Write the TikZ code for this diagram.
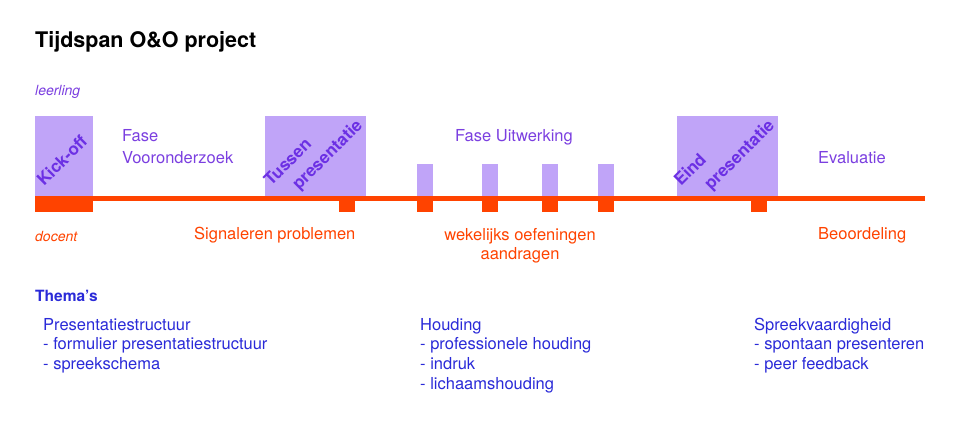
\documentclass[tikz,border=0pt]{standalone}
\usepackage{fontspec}
\setmainfont{TeX Gyre Heros}
\usetikzlibrary{positioning}
\definecolor{lila}{HTML}{C0A4F8}
\definecolor{paars}{HTML}{7B3FE0}
\definecolor{donkerpaars}{HTML}{6C30E4}
\definecolor{oranje}{HTML}{FF4300}
\definecolor{blauw}{HTML}{2A2AD8}

\begin{document}
\begin{tikzpicture}[x=1pt,y=-1pt,
  fase/.style={fill=lila, anchor=south west, inner sep=0pt},
  blok/.style={fill=oranje, anchor=north west, inner sep=0pt, minimum height=16},
  lbl/.style={anchor=base west, inner sep=0pt, font=\fontsize{16.5}{19.7}\selectfont},
  schuin/.style={rotate=45, anchor=base west, inner sep=0pt, text=donkerpaars,
    font=\fontsize{17}{20}\selectfont\bfseries},
  lijn/.style={oranje, line width=5pt}]
\useasboundingbox (0,0) rectangle (960,430);
% titel
\node[anchor=base west, inner sep=0pt, font=\fontsize{21.5}{24}\selectfont\bfseries] (titel) at (35,48) {Tijdspan O\&O project};
\node[lbl, text=paars, font=\fontsize{14}{16}\selectfont\itshape] (leerling) at (35,96) {leerling};
\node[lbl, text=oranje, font=\fontsize{14}{16}\selectfont\itshape] (docent) at (35,242) {docent};
% tijdlijn
\coordinate (tl-start) at (35,198.5);
\coordinate (tl-end) at (925,198.5);
\draw[lijn] (tl-start) -- (tl-end);
% leerling blokken
\node[fase, minimum width=58, minimum height=80] (kickoff) at (35,196) {};
\node[fase, minimum width=101, minimum height=80] (tussen) at (265,196) {};
\node[fase, minimum width=101, minimum height=80] (eind) at (677,196) {};
\foreach \x [count=\i] in {417,482,542,598}
  \node[fase, minimum width=16, minimum height=32] (w\i) at (\x,196) {};
% docent blokken
\node[blok, minimum width=58] (d0) at (35,196) {};
\node[blok, minimum width=16] (d1) at (339,196) {};
\node[blok, minimum width=16] (d2) at (751,196) {};
\foreach \x [count=\i] in {417,482,542,598}
  \node[blok, minimum width=16] (o\i) at (\x,196) {};
% schuine teksten
\node[schuin] (kicktxt) at (44,187) {Kick-off};
\node[schuin] (tussen1) at (271,187) {Tussen};
\node[schuin] (tussen2) at (299,191) {presentatie};
\node[schuin] (eind1) at (681,187) {Eind};
\node[schuin] (eind2) at (711,191) {presentatie};
% fasen
\node[lbl, text=paars, align=left, font=\fontsize{16.5}{22}\selectfont] (vooronderzoek) at (122,164) {Fase\\Vooronderzoek};
\node[lbl, text=paars] (uitwerking) at (455,142) {Fase Uitwerking};
\node[lbl, text=paars] (evaluatie) at (818,164) {Evaluatie};
% docent taken
\node[lbl, text=oranje] (signaleren) at (194,240) {Signaleren problemen};
\node[lbl, text=oranje, align=center, anchor=base, font=\fontsize{16.5}{19.5}\selectfont] (oefeningen) at (520,259.5) {wekelijks oefeningen\\aandragen};
\node[lbl, text=oranje] (beoordeling) at (818,240) {Beoordeling};
% thema's
\node[lbl, text=blauw, font=\fontsize{15.5}{18}\selectfont\bfseries] (themas) at (35,301) {Thema's};
\node[lbl, text=blauw, align=left] (structuur) at (43,369.4) {Presentatiestructuur\\- formulier presentatiestructuur\\- spreekschema};
\node[lbl, text=blauw, align=left] (houding) at (420,389.1) {Houding\\- professionele houding\\- indruk\\- lichaamshouding};
\node[lbl, text=blauw, align=left] (spreek) at (754,369.4) {Spreekvaardigheid\\- spontaan presenteren\\- peer feedback};
\end{tikzpicture}
\end{document}
